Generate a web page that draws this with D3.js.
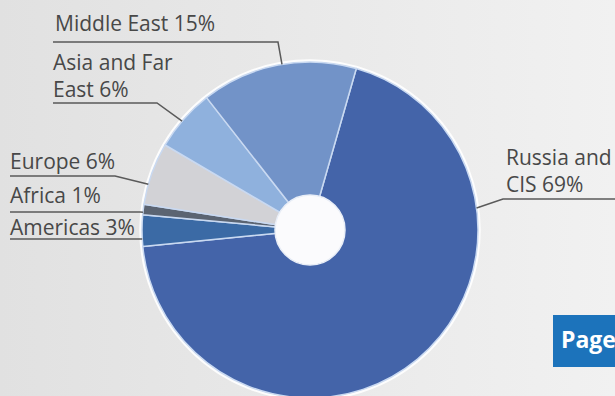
<!DOCTYPE html>
<html>
<head>
<meta charset="utf-8">
<script src="https://cdn.jsdelivr.net/npm/d3@7"></script>
<style>
  html, body { margin: 0; padding: 0; }
  svg { display: block; }
</style>
</head>
<body>
<svg id="chart" width="615" height="396"></svg>
<script>
var width = 615;
var height = 396;

// regions, clockwise starting just right of 12 o'clock
var regions = ["Russia and CIS", "Americas", "Africa", "Europe", "Asia and Far East", "Middle East"];
var shares = [69, 3, 1, 6, 6, 15];
var colors = ["#4464a9", "#3b6aa5", "#5b6472", "#d2d2d6", "#8fb1dd", "#7293c8"];

// label text, split in lines
var labelLines = [
  ["Russia and", "CIS 69%"],
  ["Americas 3%"],
  ["Africa 1%"],
  ["Europe 6%"],
  ["Asia and Far", "East 6%"],
  ["Middle East 15%"]
];

var cx = 310, cy = 230;
var outerR = 168, innerR = 35;
var startDeg = 16;

// where each label sits and where its leader line touches the pie
var labelLayout = [
  {x: 506, y: 165, dy: 27, lineY: 199, x0: 503, x1: 615, edge: 82.5, side: "right"},
  {x: 10, y: 235, dy: 0, lineY: 239, x0: 10, x1: 140, edge: 266.9, side: "left"},
  {x: 10, y: 203, dy: 0, lineY: 212, x0: 10, x1: 140, edge: 276.1, side: "left"},
  {x: 10, y: 169, dy: 0, lineY: 176, x0: 10, x1: 115, edge: 285.8, side: "left"},
  {x: 53, y: 70, dy: 27, lineY: 103, x0: 53, x1: 157, edge: 310.4, side: "left"},
  {x: 55, y: 31, dy: 0, lineY: 42, x0: 53, x1: 278, edge: 350.4, side: "left"}
];

var svg = d3.select("#chart");

var defs = svg.append("defs");
var bg = defs.append("linearGradient").attr("id", "bg")
  .attr("x1", "0").attr("y1", "0").attr("x2", "1").attr("y2", "0");
bg.append("stop").attr("offset", "0").attr("stop-color", "#e1e1e1");
bg.append("stop").attr("offset", "1").attr("stop-color", "#f1f1f1");

svg.append("rect")
  .attr("width", width).attr("height", height)
  .attr("fill", "url(#bg)");

var rad = Math.PI / 180;
var pie = d3.pie().sort(null)
  .startAngle(startDeg * rad)
  .endAngle(startDeg * rad + 2 * Math.PI);

var arcs = pie(shares);

var arc = d3.arc().innerRadius(0).outerRadius(outerR);

var g = svg.append("g").attr("transform", "translate(" + cx + "," + cy + ")");

// soft white rim
g.append("circle").attr("r", outerR + 1.5)
  .attr("fill", "none").attr("stroke", "#ffffff").attr("stroke-width", 2.5)
  .attr("opacity", 0.9);

g.selectAll("path.slice")
  .data(arcs)
  .enter().append("path")
  .attr("class", "slice")
  .attr("d", arc)
  .attr("fill", function(d, i) { return colors[i]; })
  .attr("stroke", "#c9d9f1")
  .attr("stroke-width", 1.5)
  .attr("stroke-linejoin", "round");

g.append("circle").attr("r", innerR)
  .attr("fill", "#fbfbfd")
  .attr("stroke", "#e9eef7").attr("stroke-width", 1.5);

// leader lines
var edgeArc = d3.arc().innerRadius(outerR).outerRadius(outerR);
function edgePoint(deg) {
  var p = edgeArc.centroid({startAngle: deg * rad, endAngle: deg * rad});
  return [p[0] + cx, p[1] + cy];
}

svg.selectAll("path.leader")
  .data(labelLayout)
  .enter().append("path")
  .attr("class", "leader")
  .attr("fill", "none")
  .attr("stroke", "#5a5a5a")
  .attr("stroke-width", 1.5)
  .attr("d", function(d) {
    var e = edgePoint(d.edge);
    if (d.side == "right") {
      return d3.line()([e, [d.x0, d.lineY], [d.x1, d.lineY]]);
    }
    return d3.line()([[d.x0, d.lineY], [d.x1, d.lineY], e]);
  });

// labels
var labels = svg.selectAll("text.label")
  .data(labelLayout)
  .enter().append("text")
  .attr("class", "label")
  .attr("font-family", "'Open Sans', sans-serif")
  .attr("font-size", 21)
  .attr("fill", "#484848");

labels.each(function(d, i) {
  var t = d3.select(this);
  labelLines[i].forEach(function(line, k) {
    t.append("tspan").attr("x", d.x).attr("y", d.y + k * d.dy).text(line);
  });
});

// "Page" tab at the bottom right
svg.append("rect")
  .attr("x", 553).attr("y", 315).attr("width", 70).attr("height", 52)
  .attr("fill", "#1c73bb");
svg.append("text")
  .attr("x", 561).attr("y", 348)
  .attr("font-family", "'Open Sans', sans-serif")
  .attr("font-weight", "bold")
  .attr("font-size", 23)
  .attr("fill", "#ffffff")
  .text("Page");
</script>
</body>
</html>
